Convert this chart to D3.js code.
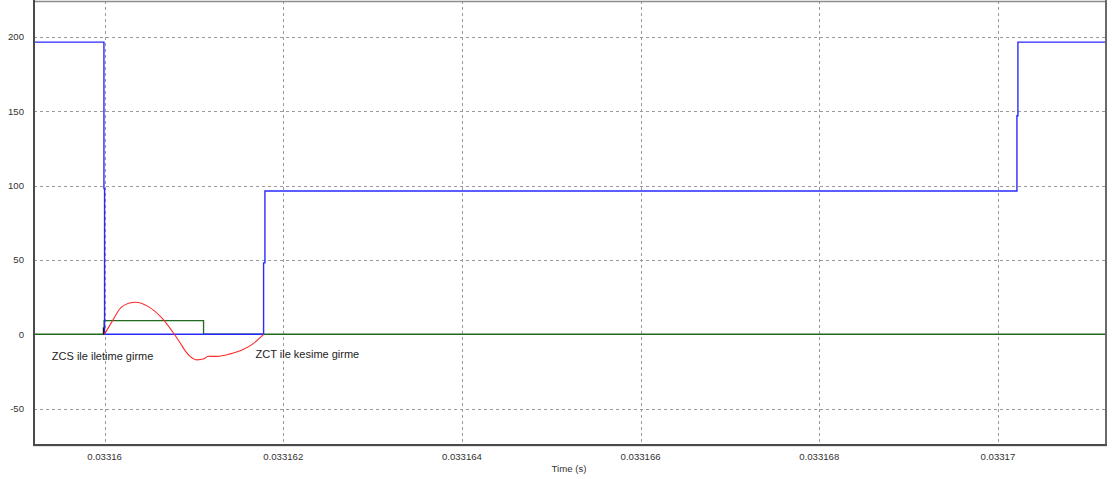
<!DOCTYPE html>
<html>
<head>
<meta charset="utf-8">
<script src="https://cdn.jsdelivr.net/npm/d3@7"></script>
<style>
  html, body { margin: 0; padding: 0; background: #fff; }
  svg { display: block; font-family: "Liberation Sans", Arial, sans-serif; }
</style>
</head>
<body>
<svg id="chart" width="1112" height="479"></svg>
<script>
// Time axis ticks (s) and value axis ticks
const xTicks = [0.03316, 0.033162, 0.033164, 0.033166, 0.033168, 0.03317];
const xTickLabels = ["0.03316", "0.033162", "0.033164", "0.033166", "0.033168", "0.03317"];
const yTicks = [-50, 0, 50, 100, 150, 200];
const yTickLabels = ["-50", "0", "50", "100", "150", "200"];
const xDomain = [0.03315921, 0.03317121];
const yDomain = [-74.5, 224.2];

// Switch voltage (blue), stepped
const blueTime  = [0.03315921, 0.033159993, 0.03316, 0.03316178, 0.033161795, 0.033170213, 0.033170224, 0.03317121];
const blueValue = [196.5, 98, 0, 48, 96.4, 147, 196.5, 196.5];

// Gate pulse (green), stepped
const greenTime  = [0.03315921, 0.033159995, 0.033161108, 0.03317121];
const greenValue = [0, 9.2, 0, 0];

// Short spike (black)
const blackTime  = [0.033159988, 0.033159988];
const blackValue = [0, 4.6];

// Resonant current (red)
const redTime = [0.03316, 0.033160083, 0.033160195, 0.033160344, 0.03316049, 0.033160643,
                 0.033160775, 0.033160847, 0.033160903, 0.03316096, 0.033161038, 0.033161105,
                 0.033161161, 0.033161206, 0.033161261, 0.033161407, 0.033161556, 0.033161668,
                 0.033161762, 0.03316178];
const redValue = [0, 8.5, 18.6, 21.5, 18.6, 10.8,
                  0.5, -5.9, -11.2, -15.0, -17.2, -16.7,
                  -14.8, -14.9, -14.9, -13.2, -10.1, -6.1,
                  -1.1, 0];

// Annotations
const notes = [
  { text: "ZCS ile iletime girme", t: 0.03315941, v: -14.4 },
  { text: "ZCT ile kesime girme",  t: 0.03316169,  v: -13.3 }
];
const xTitle = "Time (s)";

const svg = d3.select("#chart");
const pLeft = 34, pRight = 1106, pTop = 1, pBottom = 445;

const x = d3.scaleLinear().domain(xDomain).range([pLeft, pRight]);
const y = d3.scaleLinear().domain(yDomain).range([pBottom, pTop]);

const zip = (ts, vs) => ts.map((t, i) => ({ t, v: vs[i] }));

// clip region
svg.append("defs").append("clipPath").attr("id", "plot")
  .append("rect").attr("x", pLeft).attr("y", pTop)
  .attr("width", pRight - pLeft).attr("height", pBottom - pTop);

// Grid lines
const grid = svg.append("g");
grid.selectAll("line.h").data(yTicks.filter(d => d !== 0)).join("line")
  .attr("x1", pLeft).attr("x2", pRight)
  .attr("y1", d => Math.round(y(d)) + 0.5).attr("y2", d => Math.round(y(d)) + 0.5)
  .attr("stroke", "#9a9a9a").attr("stroke-width", 1).attr("stroke-dasharray", "3,3");
grid.selectAll("line.v").data(xTicks).join("line")
  .attr("y1", pTop).attr("y2", pBottom)
  .attr("x1", d => Math.round(x(d)) + 0.5).attr("x2", d => Math.round(x(d)) + 0.5)
  .attr("stroke", "#9a9a9a").attr("stroke-width", 1).attr("stroke-dasharray", "3,3");

// Series
const plot = svg.append("g").attr("clip-path", "url(#plot)");
const stepLine = d3.line().x(d => x(d.t)).y(d => y(d.v)).curve(d3.curveStepAfter);
const straight = d3.line().x(d => x(d.t)).y(d => y(d.v));
const smooth = d3.line().x(d => x(d.t)).y(d => y(d.v)).curve(d3.curveMonotoneX);

plot.append("path").datum(zip(greenTime, greenValue))
  .attr("d", stepLine).attr("fill", "none")
  .attr("stroke", "#1f6a1f").attr("stroke-width", 1.3);

plot.append("path").datum(zip(blueTime, blueValue))
  .attr("d", stepLine).attr("fill", "none")
  .attr("stroke", "#2a2aff").attr("stroke-width", 1.4);

plot.append("path").datum(zip(blackTime, blackValue))
  .attr("d", straight).attr("fill", "none")
  .attr("stroke", "#111").attr("stroke-width", 1.4);

plot.append("path").datum(zip(redTime, redValue))
  .attr("d", smooth).attr("fill", "none")
  .attr("stroke", "#ff2a2a").attr("stroke-width", 1.1);

// Frame
svg.append("rect").attr("x", pLeft).attr("y", pTop + 0.5)
  .attr("width", pRight - pLeft).attr("height", pBottom - pTop)
  .attr("fill", "none").attr("stroke", "#8a8a8a").attr("stroke-width", 1.5);
svg.append("line").attr("x1", pLeft).attr("x2", pLeft).attr("y1", 0).attr("y2", pBottom + 1)
  .attr("stroke", "#4a4a4a").attr("stroke-width", 2);
svg.append("line").attr("x1", pLeft).attr("x2", pRight + 1).attr("y1", pBottom).attr("y2", pBottom)
  .attr("stroke", "#4a4a4a").attr("stroke-width", 2);
svg.append("line").attr("x1", pRight).attr("x2", pRight).attr("y1", 0).attr("y2", pBottom)
  .attr("stroke", "#5a5a5a").attr("stroke-width", 1.6);

// Tick labels
svg.append("g").selectAll("text").data(yTicks).join("text")
  .attr("x", 24).attr("y", d => y(d)).attr("dy", "0.35em")
  .attr("text-anchor", "end").attr("font-size", 9.6).attr("fill", "#333")
  .text((d, i) => yTickLabels[i]);
svg.append("g").selectAll("text").data(xTicks).join("text")
  .attr("x", d => x(d)).attr("y", 457).attr("dy", "0.35em")
  .attr("text-anchor", "middle").attr("font-size", 9.6).attr("fill", "#333")
  .text((d, i) => xTickLabels[i]);
svg.append("text").attr("x", 569).attr("y", 469).attr("dy", "0.35em")
  .attr("text-anchor", "middle").attr("font-size", 9.6).attr("fill", "#333")
  .text(xTitle);

// Annotations
svg.append("g").selectAll("text").data(notes).join("text")
  .attr("x", d => x(d.t)).attr("y", d => y(d.v)).attr("dy", "0.35em")
  .attr("font-size", 11).attr("fill", "#222")
  .text(d => d.text);
</script>
</body>
</html>
